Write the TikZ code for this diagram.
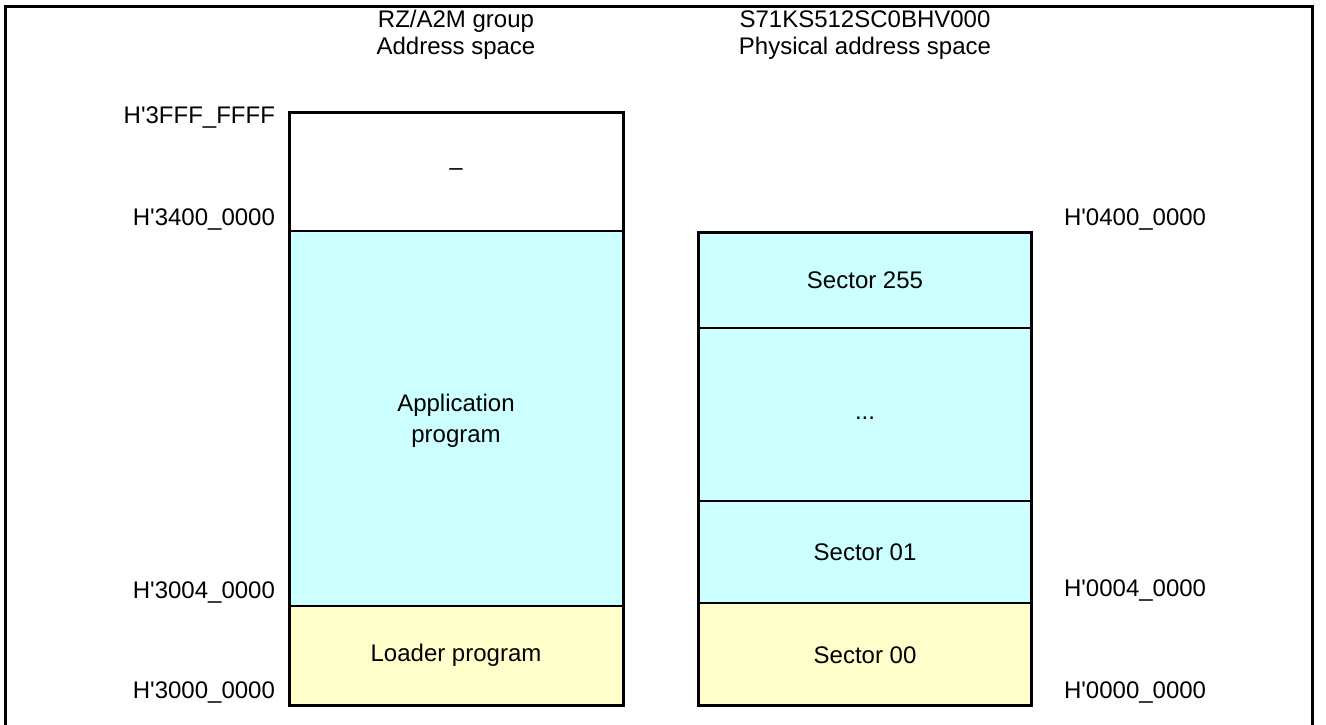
\documentclass[tikz,border=0pt]{standalone}
\usepackage{fontspec}
\setmainfont{Liberation Sans}
\newcommand{\haddr}[1]{H\textquotesingle#1}

\begin{document}
\begin{tikzpicture}[x=0.5pt,y=-0.5pt]

\tikzstyle{label} = [font=\fontsize{12}{14}\selectfont, align=center]
\tikzstyle{addrl} = [label, anchor=east]
\tikzstyle{addrr} = [label, anchor=west]
\tikzstyle{outline} = [draw=black, line width=1.5pt]
\tikzstyle{divider} = [draw=black, line width=0.7pt]
\definecolor{appcyan}{HTML}{CCFFFF}
\definecolor{loadyellow}{HTML}{FFFFCC}

\useasboundingbox (0,0) rectangle (1326,724);
\draw[outline] (5,6) rectangle (1312,740);

% RZ/A2M address space
\node[label, font=\fontsize{12}{13.5}\selectfont] (rztitle) at (456,35) {RZ/A2M group\\Address space};
\fill[appcyan] (289,231) rectangle (623,606);
\fill[loadyellow] (289,606) rectangle (623,705);
\draw[divider] (289,231) -- (623,231);
\draw[divider] (289,606) -- (623,606);
\draw[outline] (289,112) rectangle (623,705);
\node[label] (unused) at (456,172) {--};
\node[label, font=\fontsize{12}{15.5}\selectfont] (app) at (456,421) {Application\\program};
\node[label] (loader) at (456,655) {Loader program};

\node[addrl] (a3fff) at (282,118) {\haddr{3FFF\_FFFF}};
\node[addrl] (a3400) at (282,219) {\haddr{3400\_0000}};
\node[addrl] (a3004) at (282,592) {\haddr{3004\_0000}};
\node[addrl] (a3000) at (282,692) {\haddr{3000\_0000}};

% S71KS512SC0BHV000 physical address space
\node[label, font=\fontsize{12}{13.5}\selectfont] (kstitle) at (865,35) {S71KS512SC0BHV000\\Physical address space};
\fill[appcyan] (698,232) rectangle (1031,603);
\fill[loadyellow] (698,603) rectangle (1031,705);
\draw[divider] (698,328) -- (1031,328);
\draw[divider] (698,501) -- (1031,501);
\draw[divider] (698,603) -- (1031,603);
\draw[outline] (698,232) rectangle (1031,705);
\node[label] (sec255) at (865,280) {Sector 255};
\node[label] (secdots) at (865,418) {...};
\node[label] (sec01) at (865,552) {Sector 01};
\node[label] (sec00) at (865,655) {Sector 00};

\node[addrr] (a0400) at (1057,219) {\haddr{0400\_0000}};
\node[addrr] (a0004) at (1057,590) {\haddr{0004\_0000}};
\node[addrr] (a0000) at (1057,692) {\haddr{0000\_0000}};

\end{tikzpicture}
\end{document}
